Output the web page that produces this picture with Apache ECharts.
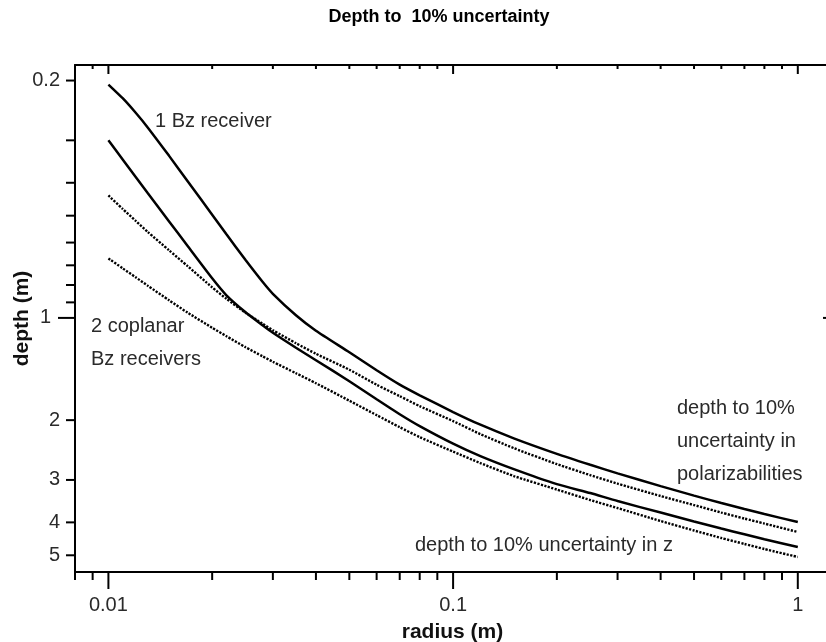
<!DOCTYPE html>
<html>
<head>
<meta charset="utf-8">
<script src="https://cdn.jsdelivr.net/npm/echarts@6/dist/echarts.min.js"></script>
<style>
html,body{margin:0;padding:0;background:#fff;}
#chart{width:826px;height:642px;}
</style>
</head>
<body>
<div id="chart"></div>
<script>
// ---- data ----
const radius = [0.01, 0.011, 0.012, 0.013, 0.015, 0.017, 0.02, 0.022, 0.025, 0.028, 0.03, 0.035, 0.04, 0.05, 0.06, 0.07, 0.08, 0.1, 0.12, 0.15, 0.2, 0.25, 0.3, 0.4, 0.5, 0.6, 0.7, 0.8, 1];
// 1 Bz receiver, depth to 10% uncertainty in polarizabilities (solid, upper)
const oneBzPolar = [0.2055, 0.2255, 0.2489, 0.2748, 0.3333, 0.3965, 0.4966, 0.5673, 0.6755, 0.7828, 0.8492, 0.9823, 1.091, 1.262, 1.426, 1.572, 1.690, 1.893, 2.063, 2.262, 2.513, 2.707, 2.870, 3.128, 3.336, 3.508, 3.654, 3.780, 3.990];
// 1 Bz receiver, depth to 10% uncertainty in z (solid, lower)
const oneBzZ = [0.300, 0.3416, 0.3844, 0.4285, 0.5197, 0.6155, 0.7646, 0.8578, 0.9626, 1.051, 1.106, 1.224, 1.332, 1.536, 1.735, 1.921, 2.082, 2.345, 2.552, 2.788, 3.086, 3.279, 3.462, 3.742, 3.977, 4.170, 4.337, 4.486, 4.726];
// 2 coplanar Bz receivers, polarizabilities (dotted, upper)
const twoBzPolar = [0.436, 0.4776, 0.5179, 0.5580, 0.6325, 0.7047, 0.8127, 0.8785, 0.9657, 1.040, 1.087, 1.187, 1.275, 1.421, 1.573, 1.700, 1.819, 2.013, 2.199, 2.418, 2.694, 2.904, 3.076, 3.346, 3.557, 3.742, 3.898, 4.032, 4.270];
// 2 coplanar Bz receivers, z (dotted, lower)
const twoBzZ = [0.668, 0.7146, 0.7594, 0.8034, 0.8874, 0.9657, 1.069, 1.132, 1.220, 1.297, 1.346, 1.455, 1.557, 1.753, 1.933, 2.098, 2.244, 2.476, 2.676, 2.922, 3.202, 3.438, 3.630, 3.964, 4.227, 4.447, 4.630, 4.792, 5.058];

// tick values
const xMajorTicks = [0.01, 0.1, 1];
const xMinorTicks = [0.008, 0.009, 0.02, 0.03, 0.04, 0.05, 0.06, 0.07, 0.08, 0.09, 0.2, 0.3, 0.4, 0.5, 0.6, 0.7, 0.8, 0.9];
const xTickLabels = [0.01, 0.1, 1];
const yMajorTicks = [1];
const yMinorTicks = [0.2, 0.3, 0.4, 0.5, 0.6, 0.7, 0.8, 0.9, 2, 3, 4, 5];
const yTickLabels = [0.2, 1, 2, 3, 4, 5];

const X_MIN = 0.008, X_MAX = 1.24, Y_MIN = 0.18, Y_MAX = 5.6;
const FONT = '"Liberation Sans", Arial, Helvetica, sans-serif';
const TXT = '#2a2a2a';

const chart = echarts.init(document.getElementById('chart'), null, {renderer: 'canvas'});

function pairs(ys) { return radius.map((r, i) => [r, ys[i]]); }

const axisCommon = {
  type: 'log', logBase: 10,
  axisLine: {show: true, onZero: false, lineStyle: {color: '#000', width: 2}},
  axisTick: {show: false}, axisLabel: {show: false},
  splitLine: {show: false}, minorTick: {show: false}, minorSplitLine: {show: false}
};

const xTickData = xMinorTicks.map(v => [v, 1, 0]).concat(xMajorTicks.map(v => [v, 1, 1]));
const yTickData = yMinorTicks.map(v => [0.01, v, 0]).concat(yMajorTicks.map(v => [0.01, v, 1]));
const xLabelData = xTickLabels.map(v => [v, 1]);
const yLabelData = yTickLabels.map(v => [0.01, v, v === 1 ? 1 : 0]);

function line(x1, y1, x2, y2) {
  return {type: 'line', shape: {x1, y1, x2, y2}, style: {stroke: '#000', lineWidth: 2}};
}

const curveCommon = {type: 'line', smooth: 0.2, showSymbol: false, symbol: 'none'};

const option = {
  animation: false,
  backgroundColor: '#fff',
  grid: {left: 75, top: 65, width: 755, height: 507, containLabel: false, outerBoundsMode: 'none'},
  xAxis: [
    Object.assign({}, axisCommon, {min: X_MIN, max: X_MAX, position: 'bottom',
      name: 'radius (m)', nameLocation: 'middle', nameGap: 50,
      nameTextStyle: {fontSize: 21, fontWeight: 'bold', color: '#111', fontFamily: FONT}}),
    Object.assign({}, axisCommon, {min: X_MIN, max: X_MAX, position: 'top'})
  ],
  yAxis: [
    Object.assign({}, axisCommon, {min: Y_MIN, max: Y_MAX, inverse: true, position: 'left',
      name: 'depth (m)', nameLocation: 'middle', nameGap: 42,
      nameTextStyle: {fontSize: 21, fontWeight: 'bold', color: '#111', fontFamily: FONT}}),
    Object.assign({}, axisCommon, {min: Y_MIN, max: Y_MAX, inverse: true, position: 'right'})
  ],
  graphic: [
    {type: 'text', x: 439, y: 17, style: {text: 'Depth to  10% uncertainty', fontSize: 18, fontWeight: 'bold', fontFamily: FONT, fill: '#000', align: 'center', verticalAlign: 'middle'}},
    {type: 'text', x: 155, y: 121, style: {text: '1 Bz receiver', fontSize: 20, fontFamily: FONT, fill: TXT, align: 'left', verticalAlign: 'middle'}},
    {type: 'text', x: 91, y: 326, style: {text: '2 coplanar', fontSize: 20, fontFamily: FONT, fill: TXT, align: 'left', verticalAlign: 'middle'}},
    {type: 'text', x: 91, y: 359, style: {text: 'Bz receivers', fontSize: 20, fontFamily: FONT, fill: TXT, align: 'left', verticalAlign: 'middle'}},
    {type: 'text', x: 677, y: 408, style: {text: 'depth to 10%', fontSize: 20, fontFamily: FONT, fill: TXT, align: 'left', verticalAlign: 'middle'}},
    {type: 'text', x: 677, y: 441, style: {text: 'uncertainty in', fontSize: 20, fontFamily: FONT, fill: TXT, align: 'left', verticalAlign: 'middle'}},
    {type: 'text', x: 677, y: 474, style: {text: 'polarizabilities', fontSize: 20, fontFamily: FONT, fill: TXT, align: 'left', verticalAlign: 'middle'}},
    {type: 'text', x: 415, y: 545, style: {text: 'depth to 10% uncertainty in z', fontSize: 20, fontFamily: FONT, fill: TXT, align: 'left', verticalAlign: 'middle'}}
  ],
  series: [
    Object.assign({}, curveCommon, {name: '1 Bz polarizabilities', data: pairs(oneBzPolar),
      lineStyle: {color: '#000', width: 2.5}}),
    Object.assign({}, curveCommon, {name: '1 Bz z', data: pairs(oneBzZ),
      lineStyle: {color: '#000', width: 2.5}}),
    Object.assign({}, curveCommon, {name: '2 Bz polarizabilities', data: pairs(twoBzPolar),
      lineStyle: {color: '#000', width: 2.4, type: [2.2, 1.4]}}),
    Object.assign({}, curveCommon, {name: '2 Bz z', data: pairs(twoBzZ),
      lineStyle: {color: '#000', width: 2.4, type: [2.2, 1.4]}}),
    {type: 'custom', name: 'xTicks', data: xTickData, clip: false, silent: true, z: 5,
      renderItem: function (params, api) {
        const cs = params.coordSys;
        const x = api.coord([api.value(0), 1])[0];
        const major = api.value(2) === 1;
        const b = cs.y + cs.height, t = cs.y;
        return {type: 'group', children: [
          line(x, b, x, b + (major ? 17 : 8)),
          line(x, t, x, t + (major ? 9 : 4))
        ]};
      }},
    {type: 'custom', name: 'yTicks', data: yTickData, clip: false, silent: true, z: 5,
      renderItem: function (params, api) {
        const cs = params.coordSys;
        const y = api.coord([0.01, api.value(1)])[1];
        const major = api.value(2) === 1;
        const l = cs.x, r = cs.x + cs.width;
        return {type: 'group', children: [
          line(l - (major ? 17 : 9), y, l, y),
          line(r - (major ? 7 : 4), y, r, y)
        ]};
      }},
    {type: 'custom', name: 'xLabels', data: xLabelData, clip: false, silent: true, z: 5,
      renderItem: function (params, api) {
        const cs = params.coordSys;
        const v = api.value(0);
        const x = api.coord([v, 1])[0];
        return {type: 'text', x: x, y: cs.y + cs.height + 33,
          style: {text: String(v), fontSize: 20, fontFamily: FONT, fill: TXT, align: 'center', verticalAlign: 'middle'}};
      }},
    {type: 'custom', name: 'yLabels', data: yLabelData, clip: false, silent: true, z: 5,
      renderItem: function (params, api) {
        const cs = params.coordSys;
        const v = api.value(1);
        const y = api.coord([0.01, v])[1];
        const dec = api.value(2) === 1;
        return {type: 'text', x: cs.x - (dec ? 24 : 15), y: y,
          style: {text: String(v), fontSize: 20, fontFamily: FONT, fill: TXT, align: 'right', verticalAlign: 'middle'}};
      }}
  ]
};
chart.setOption(option);
</script>
</body>
</html>
